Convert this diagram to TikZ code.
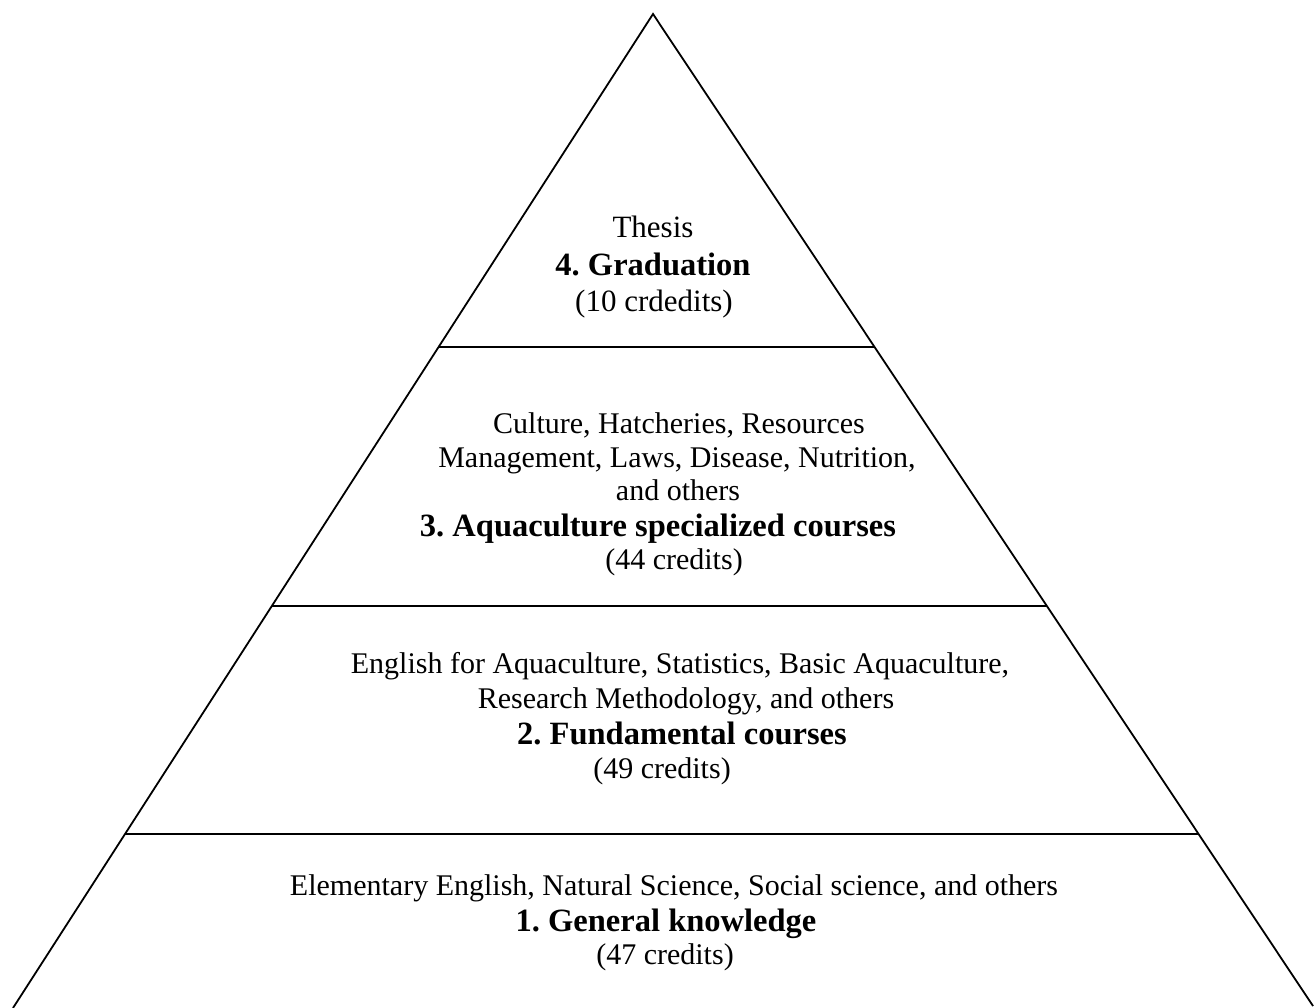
\documentclass[tikz,border=0pt]{standalone}
\usepackage{fontspec}
\setmainfont{Liberation Serif}
\usetikzlibrary{calc}
\frenchspacing
\tikzset{
  edge/.style={line width=1.8pt, black},
  reg/.style={anchor=base, inner sep=0pt, font=\fontsize{30}{35}\selectfont},
  regbig/.style={anchor=base, inner sep=0pt, font=\fontsize{31}{36}\selectfont},
  bld/.style={anchor=base, inner sep=0pt, font=\fontsize{32.5}{36}\selectfont\bfseries},
}
\begin{document}
\begin{tikzpicture}[x=1pt,y=-1pt]
\useasboundingbox (0,0) rectangle (1314,1008);
\coordinate (apex) at (653,14);
\coordinate (bl) at (13,1008);
\coordinate (br) at (1313,1006);
\draw[edge, line join=miter] (bl) -- (apex) -- (br);
% tier dividers
\coordinate (l1) at ($(apex)!{(347-14)/994}!(bl)$);
\coordinate (r1) at ($(apex)!{(347-14)/992}!(br)$);
\coordinate (l2) at ($(apex)!{(606-14)/994}!(bl)$);
\coordinate (r2) at ($(apex)!{(606-14)/992}!(br)$);
\coordinate (l3) at ($(apex)!{(834-14)/994}!(bl)$);
\coordinate (r3) at ($(apex)!{(834-14)/992}!(br)$);
\draw[edge] (l1) -- (l1 -| r1);
\draw[edge] (l2) -- (l2 -| r2);
\draw[edge] (l3) -- (l3 -| r3);
% tier 4
\node[regbig] (t4a) at (653,238) {Thesis};
\node[bld] (t4b) at (653,276) {4. Graduation};
\node[regbig] (t4c) at (654,311) {(10 crdedits)};
% tier 3
\node[reg] (t3a) at (679,433) {Culture, Hatcheries, Resources};
\node[reg] (t3b) at (677,467) {Management, Laws, Disease, Nutrition,};
\node[reg] (t3c) at (678,500) {and others};
\node[bld] (t3d) at (658,536) {3. Aquaculture specialized courses};
\node[reg] (t3e) at (674,569) {(44 credits)};
% tier 2
\node[reg] (t2a) at (680,673) {English for Aquaculture, Statistics, Basic Aquaculture,};
\node[reg] (t2b) at (686,708) {Research Methodology, and others};
\node[bld] (t2c) at (682,744) {2. Fundamental courses};
\node[reg] (t2d) at (662,778) {(49 credits)};
% tier 1
\node[reg] (t1a) at (674,895) {Elementary English, Natural Science, Social science, and others};
\node[bld] (t1b) at (666,931) {1. General knowledge};
\node[reg] (t1c) at (665,964) {(47 credits)};
\end{tikzpicture}
\end{document}
